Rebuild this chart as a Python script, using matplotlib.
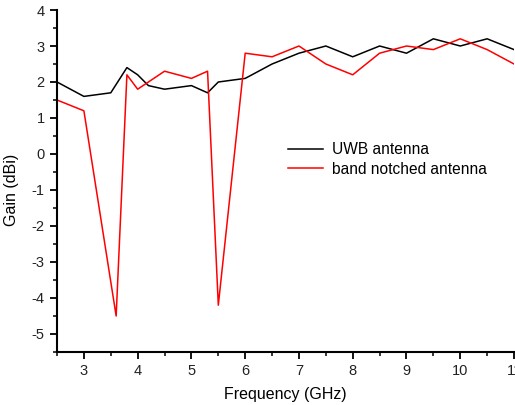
import matplotlib
matplotlib.use("Agg")
import matplotlib.pyplot as plt
from matplotlib.ticker import MultipleLocator

plt.rcParams["font.family"] = ["Liberation Sans", "DejaVu Sans"]
plt.rcParams["axes.unicode_minus"] = False

# ===========================
# Data
# ===========================

freq_uwb = [2.5, 3.0, 3.5, 3.8, 4.0, 4.2, 4.5, 5.0, 5.3, 5.5, 6.0,
            6.5, 7.0, 7.5, 8.0, 8.5, 9.0, 9.5, 10.0, 10.5, 11.0]
gain_uwb = [2.0, 1.6, 1.7, 2.4, 2.2, 1.9, 1.8, 1.9, 1.7, 2.0, 2.1,
            2.5, 2.8, 3.0, 2.7, 3.0, 2.8, 3.2, 3.0, 3.2, 2.9]

freq_notch = [2.5, 3.0, 3.6, 3.8, 4.0, 4.5, 5.0, 5.3, 5.5, 6.0, 6.5,
              7.0, 7.5, 8.0, 8.5, 9.0, 9.5, 10.0, 10.5, 11.0]
gain_notch = [1.5, 1.2, -4.5, 2.2, 1.8, 2.3, 2.1, 2.3, -4.2, 2.8, 2.7,
              3.0, 2.5, 2.2, 2.8, 3.0, 2.9, 3.2, 2.9, 2.5]

# ===========================
# Plot
# ===========================

fig = plt.figure(figsize=(5.15, 4.05), dpi=100)
ax = fig.add_axes([0.1107, 0.1309, 0.8874, 0.8444])

ax.plot(freq_uwb, gain_uwb, color="black", linewidth=1.1, label="UWB antenna")
ax.plot(freq_notch, gain_notch, color="red", linewidth=1.1, label="band notched antenna")

ax.set_xlim(2.5, 11)
ax.set_ylim(-5.5, 4)
ax.xaxis.set_major_locator(MultipleLocator(1))
ax.xaxis.set_minor_locator(MultipleLocator(0.5))
ax.yaxis.set_major_locator(MultipleLocator(1))
ax.yaxis.set_minor_locator(MultipleLocator(0.5))

for side in ["top", "right"]:
    ax.spines[side].set_visible(False)
for side in ["left", "bottom"]:
    ax.spines[side].set_linewidth(1.5)

ax.tick_params(which="major", direction="out", length=5, width=1.3,
               labelsize=10.5, colors="black", pad=4)
ax.tick_params(which="minor", direction="out", length=3, width=1.1)
ax.tick_params(axis="both", labelcolor="#222222")

ax.set_xlabel("Frequency (GHz)", fontsize=11.5, labelpad=6)
ax.set_ylabel("Gain (dBi)", fontsize=11.5)
ax.yaxis.set_label_coords(-0.083, 0.474)

ax.legend(loc="upper left", bbox_to_anchor=(0.475, 0.655), frameon=False,
          fontsize=11.2, handlelength=2.25, handletextpad=0.55,
          labelspacing=0.3)

fig.savefig("out.png", dpi=100)
plt.close()
